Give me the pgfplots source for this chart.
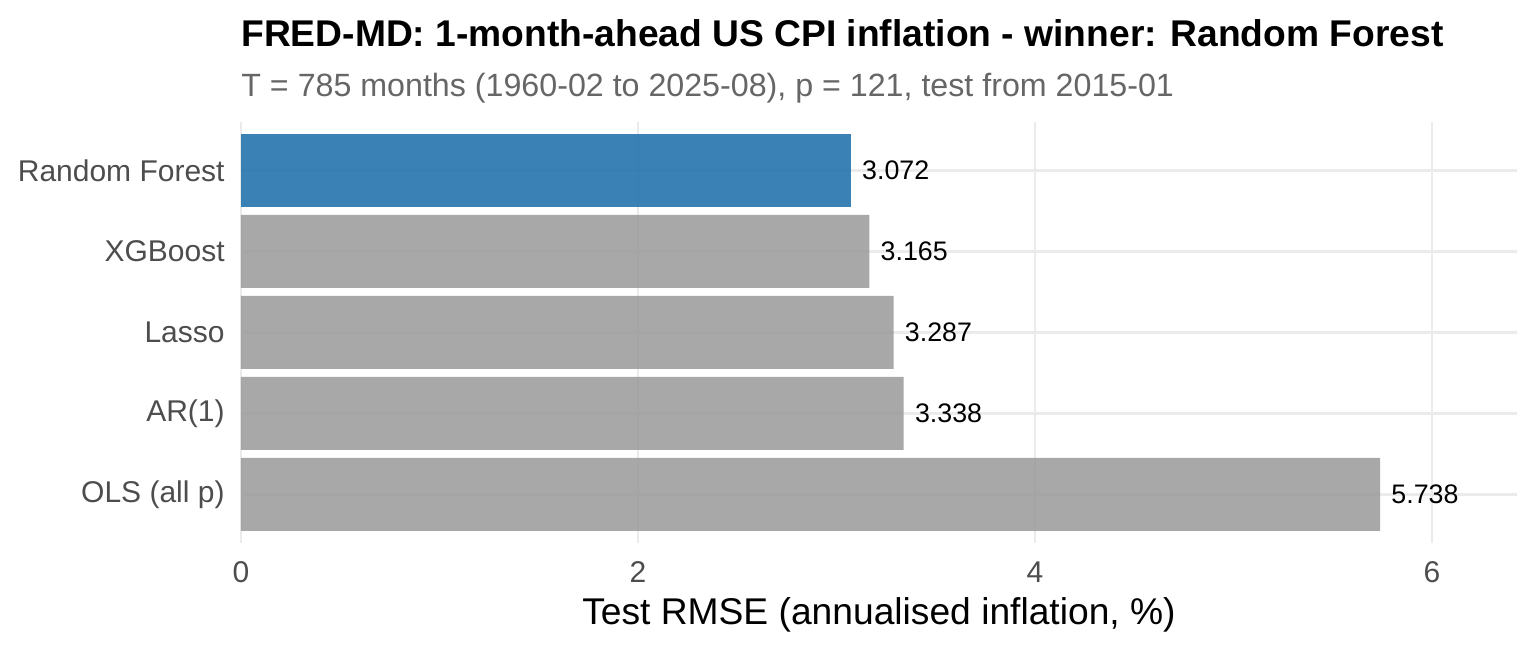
\documentclass[border=0pt]{standalone}
\usepackage{pgfplots}
\pgfplotsset{compat=1.18}
\usepackage{fontspec}
\setmainfont{Liberation Sans}
\definecolor{gridc}{HTML}{EBEBEB}
\definecolor{tickc}{HTML}{4D4D4D}
\definecolor{subc}{HTML}{666666}
\definecolor{bluebar}{RGB}{37,116,173}
\definecolor{graybar}{RGB}{158,158,158}
\pgfkeys{/pgf/number format/assume math mode=true}
\begin{document}
\begin{tikzpicture}
\path[use as bounding box] (-120.5pt,-54.5pt) rectangle (647.5pt,271.5pt);
\begin{axis}[
  at={(0,0)}, anchor=south west,
  scale only axis, width=638pt, height=210.65pt,
  xmin=0, xmax=6.428, ymin=0.4, ymax=5.6,
  xtick={0,2,4,6},
  ytick={1,2,3,4,5},
  yticklabels={OLS (all p),AR(1),Lasso,XGBoost,Random Forest},
  axis line style={draw=none},
  major tick length=0pt,
  grid=major,
  major grid style={draw=gridc, line width=1.35pt},
  ticklabel style={font=\fontsize{15}{18}\selectfont, text=tickc, inner sep=0pt},
  xticklabel style={anchor=north, yshift=-9.3pt},
  yticklabel style={anchor=east, xshift=-8pt},
  xbar, bar width=0.9, bar shift=0pt,
  nodes near coords={\pgfmathprintnumber[fixed,fixed zerofill,precision=3]{\pgfplotspointmeta}},
  point meta=x,
  every node near coord/.append style={anchor=west, xshift=5.5pt, inner sep=0pt, font=\fontsize{13.4}{16}\selectfont, text=black, fill opacity=1, text opacity=1},
  clip=false,
]
\addplot[draw=none, fill=bluebar, fill opacity=0.9] coordinates {(3.072,5)};
\addplot[draw=none, fill=graybar, fill opacity=0.9] coordinates {(3.165,4) (3.287,3) (3.338,2) (5.738,1)};
\end{axis}
\node[anchor=base west, inner sep=0pt, font=\fontsize{18.6}{22}\selectfont\bfseries] at (0,248.3pt) {FRED-MD: 1-month-ahead US CPI inflation - winner: Random Forest};
\node[anchor=base west, inner sep=0pt, font=\fontsize{16.1}{19}\selectfont, text=subc] at (0,223.3pt) {T = 785 months (1960-02 to 2025-08), p = 121, test from 2015-01};
\node[anchor=base, inner sep=0pt, font=\fontsize{18.6}{22}\selectfont] at (319pt,-40.65pt) {Test RMSE (annualised inflation, \%)};
\end{tikzpicture}
\end{document}
